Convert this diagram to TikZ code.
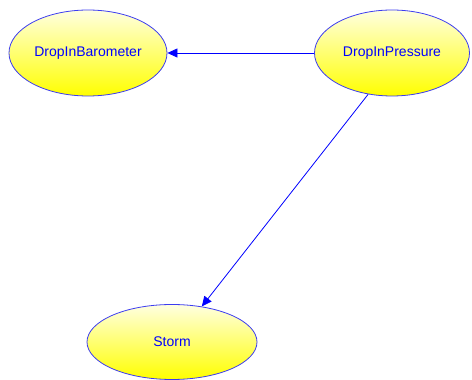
\documentclass[tikz,border=0pt]{standalone}
\usepackage{fontspec}
\setmainfont{Liberation Sans}
\usepackage{tikz}
\usetikzlibrary{shapes.geometric, arrows.meta, positioning}
\definecolor{linkblue}{HTML}{0000FF}
\definecolor{rimblue}{HTML}{3C3CF0}
\tikzset{
  chance/.style={ellipse, draw=rimblue, line width=0.8pt,
                 top color=yellow!12, middle color=yellow!70, bottom color=yellow,
                 inner sep=0pt, text=linkblue, font=\fontsize{14}{17}\selectfont},
  link/.style={-{Triangle[length=10pt, width=9pt]}, color=linkblue, line width=0.8pt},
}
\begin{document}
\begin{tikzpicture}[x=1pt, y=1pt]
  \useasboundingbox (0,0) rectangle (472,380);
  \node[chance, minimum width=158pt, minimum height=86pt] (baro)  at (88,327)  {DropInBarometer};
  \node[chance, minimum width=155pt, minimum height=86pt] (press) at (392,327) {DropInPressure};
  \node[chance, minimum width=170pt, minimum height=75pt] (storm) at (172,38)  {Storm};
  \draw[link] (press.west) -- (baro.east);
  \draw[link] (press.240) -- (storm.50);
\end{tikzpicture}
\end{document}
